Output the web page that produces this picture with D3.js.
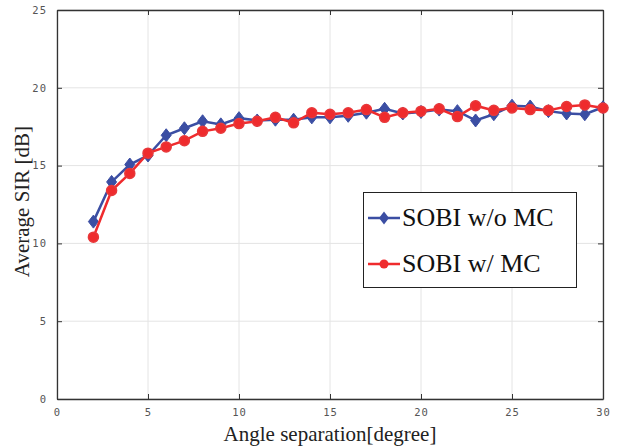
<!DOCTYPE html>
<html>
<head>
<meta charset="utf-8">
<script src="https://cdn.jsdelivr.net/npm/d3@7"></script>
<style>
  body { margin: 0; background: #fff; }
  svg { display: block; }
</style>
</head>
<body>
<div id="chart"></div>
<script>
// angle separation in degrees
let angles = [2, 3, 4, 5, 6, 7, 8, 9, 10, 11, 12, 13, 14, 15, 16, 17, 18, 19, 20, 21, 22, 23, 24, 25, 26, 27, 28, 29, 30];
let sirNoMC = [11.4, 13.95, 15.07, 15.65, 16.95, 17.4, 17.85, 17.65, 18.05, 17.9, 17.95, 17.95, 18.1, 18.1, 18.2, 18.4, 18.65, 18.35, 18.45, 18.6, 18.5, 17.9, 18.3, 18.85, 18.8, 18.5, 18.35, 18.3, 18.75];
let sirMC   = [10.4, 13.4, 14.5, 15.8, 16.2, 16.6, 17.2, 17.4, 17.7, 17.85, 18.1, 17.75, 18.4, 18.3, 18.4, 18.6, 18.1, 18.4, 18.5, 18.65, 18.15, 18.85, 18.55, 18.7, 18.6, 18.55, 18.8, 18.9, 18.7];
let xTicks = [0, 5, 10, 15, 20, 25, 30];
let yTicks = [0, 5, 10, 15, 20, 25];
let seriesNames = ["SOBI w/o MC", "SOBI w/ MC"];

let width = 627, height = 448;
let margin = {left: 57, right: 24, top: 10, bottom: 49};

let svg = d3.select("#chart").append("svg")
    .attr("width", width)
    .attr("height", height);

let x = d3.scaleLinear().domain([0, 30]).range([margin.left, width - margin.right]);
let y = d3.scaleLinear().domain([0, 25]).range([height - margin.bottom, margin.top]);

// grid
svg.append("g").selectAll("line")
    .data(xTicks)
    .enter().append("line")
    .attr("x1", d => x(d)).attr("x2", d => x(d))
    .attr("y1", y(0)).attr("y2", y(25))
    .style("stroke", "#e4e4e4").style("stroke-width", 1);
svg.append("g").selectAll("line")
    .data(yTicks)
    .enter().append("line")
    .attr("x1", x(0)).attr("x2", x(30))
    .attr("y1", d => y(d)).attr("y2", d => y(d))
    .style("stroke", "#e4e4e4").style("stroke-width", 1);

// axes with inward ticks
let tickFont = function(g) {
  g.selectAll("text")
    .style("font-family", "'DejaVu Sans Mono', monospace")
    .style("font-size", "10.5px")
    .style("letter-spacing", "1px")
    .style("fill", "#555");
  g.selectAll("line").style("stroke", "#333");
  g.select(".domain").style("stroke", "#333").style("stroke-width", 1.3);
}

svg.append("g")
    .attr("transform", "translate(0," + y(0) + ")")
    .call(d3.axisBottom(x).tickValues(xTicks).tickSizeInner(-5).tickSizeOuter(0).tickPadding(10))
    .call(tickFont);
svg.append("g")
    .attr("transform", "translate(0," + y(25) + ")")
    .call(d3.axisTop(x).tickValues(xTicks).tickSizeInner(-5).tickSizeOuter(0).tickFormat(""))
    .call(tickFont);
svg.append("g")
    .attr("transform", "translate(" + x(0) + ",0)")
    .call(d3.axisLeft(y).tickValues(yTicks).tickSizeInner(-5).tickSizeOuter(0).tickPadding(10))
    .call(tickFont);
svg.append("g")
    .attr("transform", "translate(" + x(30) + ",0)")
    .call(d3.axisRight(y).tickValues(yTicks).tickSizeInner(-5).tickSizeOuter(0).tickFormat(""))
    .call(tickFont);

let blue = "#3b4ea3", red = "#ef2b2d";

let line = d3.line()
    .x(d => x(d[0]))
    .y(d => y(d[1]));

let dataNoMC = angles.map((a, i) => [a, sirNoMC[i]]);
let dataMC = angles.map((a, i) => [a, sirMC[i]]);

let diamond = "M0,-6.5L5,0L0,6.5L-5,0Z";

// SOBI w/o MC
svg.append("path")
    .datum(dataNoMC)
    .attr("d", line)
    .style("fill", "none").style("stroke", blue).style("stroke-width", 2.5);
svg.append("g").selectAll("path")
    .data(dataNoMC)
    .enter().append("path")
    .attr("d", diamond)
    .attr("transform", d => "translate(" + x(d[0]) + "," + y(d[1]) + ")")
    .style("fill", blue).style("stroke", blue).style("stroke-width", 1);

// SOBI w/ MC
svg.append("path")
    .datum(dataMC)
    .attr("d", line)
    .style("fill", "none").style("stroke", red).style("stroke-width", 2.5);
svg.append("g").selectAll("circle")
    .data(dataMC)
    .enter().append("circle")
    .attr("cx", d => x(d[0]))
    .attr("cy", d => y(d[1]))
    .attr("r", 5)
    .style("fill", red).style("stroke", "#e8383a").style("stroke-width", 1.5);

// axis labels
svg.append("text")
    .attr("x", (x(0) + x(30)) / 2)
    .attr("y", 441)
    .attr("text-anchor", "middle")
    .style("font-family", "'Liberation Serif', 'Times New Roman', serif")
    .style("font-size", "21px")
    .style("fill", "#222")
    .text("Angle separation[degree]");
svg.append("text")
    .attr("transform", "translate(29," + (y(12.5) - 3) + ") rotate(-90)")
    .attr("text-anchor", "middle")
    .style("font-family", "'Liberation Serif', 'Times New Roman', serif")
    .style("font-size", "21px")
    .style("fill", "#222")
    .text("Average SIR [dB]");

// legend
let legend = svg.append("g");
legend.append("rect")
    .attr("x", 363.5).attr("y", 192.5)
    .attr("width", 213).attr("height", 95)
    .style("fill", "#fff").style("stroke", "#222").style("stroke-width", 1);

let legendRows = [
  {name: seriesNames[0], color: blue, marker: "diamond", cy: 218},
  {name: seriesNames[1], color: red, marker: "circle", cy: 264}
];
legendRows.forEach(function(r) {
  legend.append("line")
      .attr("x1", 368).attr("x2", 400)
      .attr("y1", r.cy).attr("y2", r.cy)
      .style("stroke", r.color).style("stroke-width", 2.5);
  if (r.marker == "diamond") {
    legend.append("path")
        .attr("d", diamond)
        .attr("transform", "translate(384," + r.cy + ")")
        .style("fill", r.color);
  } else {
    legend.append("circle")
        .attr("cx", 384).attr("cy", r.cy).attr("r", 4.5)
        .style("fill", r.color);
  }
  legend.append("text")
      .attr("x", 402).attr("y", r.cy + 8)
      .style("font-family", "'Liberation Serif', 'Times New Roman', serif")
      .style("font-size", "26px")
      .style("fill", "#111")
      .text(r.name);
});
</script>
</body>
</html>
